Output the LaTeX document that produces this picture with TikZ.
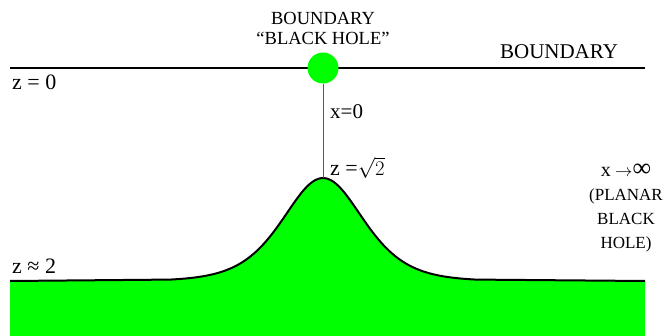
\documentclass[tikz,border=0pt]{standalone}
\usepackage{fontspec}
\setmainfont{Liberation Serif}
\usetikzlibrary{positioning}

\tikzset{
  lbl/.style={inner sep=0pt, font=\fontsize{22}{24}\selectfont},
  smalllbl/.style={inner sep=0pt, align=center, font=\fontsize{17}{24}\selectfont},
  bulk/.style={fill=green},
  rim/.style={line width=2pt, line join=round}
}

\begin{document}
\begin{tikzpicture}[x=1pt,y=-1pt]
  \useasboundingbox (0,0) rectangle (668,336);
  % bulk with the bump
  \path[bulk]
    (10,336) -- (10,281) --
    plot[domain=170:476,samples=100,smooth] (\x,{281-103/(cosh((\x-323)/54)^2)}) --
    (645,281) -- (645,336) -- cycle;
  \draw[rim]
    (10,281) --
    plot[domain=170:476,samples=100,smooth] (\x,{281-103/(cosh((\x-323)/54)^2)}) --
    (645,281);
  % boundary
  \coordinate (bl) at (10,68);
  \coordinate (br) at (645,68);
  \coordinate (tip) at (323,178);
  \draw[line width=2.2pt] (bl) -- (br);
  \node[circle, bulk, minimum size=31pt, inner sep=0pt] (bh) at (323,68) {};
  \draw[gray!70!black, line width=0.9pt] (bh) -- (tip);
  % labels
  \node[lbl, align=center, font=\fontsize{18.5}{20}\selectfont, above=7pt of bh] (bhlabel) {BOUNDARY\\“BLACK HOLE”};
  \node[lbl, font=\fontsize{21}{22}\selectfont] (blabel) at (559,52) {BOUNDARY};
  \node[lbl, anchor=west] (z0) at (12,82) {z = 0};
  \node[lbl, anchor=west, font=\fontsize{21}{22}\selectfont] (x0) at (330,112) {x=0};
  \node[lbl, anchor=west] (zroot) at (330,168) {z =$\sqrt{2}$};
  \node[lbl, anchor=west] (z2) at (12,266) {z ≈ 2};
  \node[smalllbl, anchor=north] (planar) at (626,164) {{\fontsize{20}{24}\selectfont x} $\rightarrow${\fontsize{26}{24}\selectfont∞}\\(PLANAR\\BLACK\\HOLE)};
\end{tikzpicture}
\end{document}
